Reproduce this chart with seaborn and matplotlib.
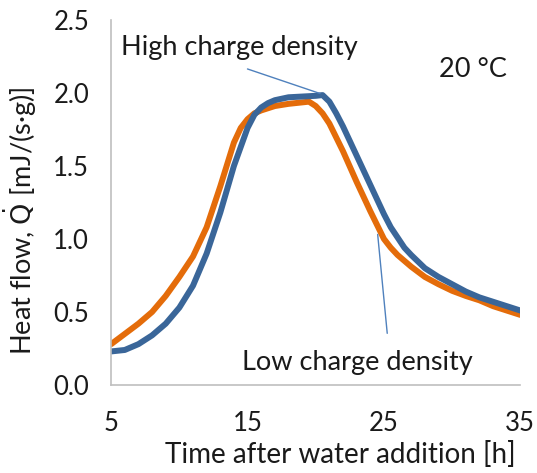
import matplotlib
matplotlib.use("Agg")
import matplotlib.pyplot as plt
import seaborn as sns
import pandas as pd
import numpy as np

# time after water addition [h] / heat flow [mJ/(s*g)]
t_high = [5, 6, 7, 8, 9, 10, 11, 12, 13, 14, 15, 15.5, 16, 16.5, 17, 18, 19, 20,
          20.5, 21, 21.5, 22, 23, 24, 25, 25.5, 26, 26.5, 27, 28, 29, 30, 31, 32,
          33, 34, 35]
q_high = [0.23, 0.24, 0.28, 0.34, 0.42, 0.53, 0.68, 0.90, 1.18, 1.50, 1.76, 1.85,
          1.90, 1.93, 1.95, 1.97, 1.975, 1.98, 1.985, 1.94, 1.86, 1.77, 1.57,
          1.37, 1.17, 1.08, 1.01, 0.94, 0.89, 0.80, 0.74, 0.69, 0.64, 0.60,
          0.57, 0.54, 0.51]

t_low = [5, 6, 7, 8, 9, 10, 11, 12, 13, 14, 14.5, 15, 15.5, 16, 17, 18, 19, 19.5,
         20, 20.5, 21, 22, 23, 24, 25, 25.5, 26, 27, 28, 29, 30, 31, 32, 33, 34, 35]
q_low = [0.28, 0.35, 0.42, 0.50, 0.61, 0.74, 0.88, 1.08, 1.36, 1.66, 1.76, 1.82,
         1.86, 1.88, 1.91, 1.925, 1.935, 1.94, 1.91, 1.86, 1.79, 1.60, 1.39,
         1.19, 1.00, 0.94, 0.89, 0.81, 0.74, 0.69, 0.645, 0.61, 0.58, 0.54,
         0.51, 0.48]

x_ticks = [5, 15, 25, 35]
y_ticks = [0.0, 0.5, 1.0, 1.5, 2.0, 2.5]


def main():
    sns.set_style("white")
    plt.rcParams['font.family'] = ['Lato', 'DejaVu Sans']

    data = pd.concat([
        pd.DataFrame({"t": t_low, "q": q_low, "series": "Low charge density"}),
        pd.DataFrame({"t": t_high, "q": q_high, "series": "High charge density"}),
    ], ignore_index=True)

    fig = plt.figure(figsize=(5.37, 4.73), dpi=100)
    ax = fig.add_axes([0.207, 0.186, 0.762, 0.772])

    sns.lineplot(data=data, x="t", y="q", hue="series", sort=False,
                 palette={"Low charge density": "#E46C0A",
                          "High charge density": "#3A6699"},
                 linewidth=4.3, legend=False, ax=ax)

    ax.set_xlim(5, 35)
    ax.set_ylim(0, 2.5)
    ax.set_xticks(x_ticks)
    ax.set_yticks(y_ticks)
    ax.set_yticklabels(["%.1f" % v for v in y_ticks])

    for s in ["top", "right"]:
        ax.spines[s].set_visible(False)
    for s in ["left", "bottom"]:
        ax.spines[s].set_color("#BFBFBF")
        ax.spines[s].set_linewidth(1.2)
    ax.tick_params(axis="both", direction="out", length=5.8, width=1.2,
                   color="#BFBFBF", labelsize=18.5, labelcolor="#1a1a1a")
    ax.tick_params(axis="y", pad=10)
    ax.tick_params(axis="x", pad=13)

    ax.set_xlabel("Time after water addition [h]", fontsize=20, color="#1a1a1a")
    ax.set_ylabel("Heat flow, $\\dot{\\mathrm{Q}}$ [mJ/(s\u00b7g)]", fontsize=19.5,
                  color="#1a1a1a", math_fontfamily="dejavusans")
    ax.xaxis.set_label_coords(0.56, -0.152)
    ax.yaxis.set_label_coords(-0.176, 0.45)

    ax.text(5.7, 2.26, "High charge density", fontsize=19.5, va="baseline",
            color="#1a1a1a")
    ax.annotate("", xy=(20.5, 1.99), xytext=(14.8, 2.17),
                arrowprops=dict(arrowstyle="-", color="#4F81BD", lw=1))
    ax.text(14.56, 0.103, "Low charge density", fontsize=19.5, va="baseline",
            color="#1a1a1a")
    ax.annotate("", xy=(25.26, 0.335), xytext=(24.52, 1.05),
                arrowprops=dict(arrowstyle="-", color="#4F81BD", lw=1))
    ax.text(29.0, 2.11, "20 \u00b0C", fontsize=19.5, va="baseline",
            color="#1a1a1a")

    plt.savefig("out.png", dpi=100)


if __name__ == '__main__':
    main()
